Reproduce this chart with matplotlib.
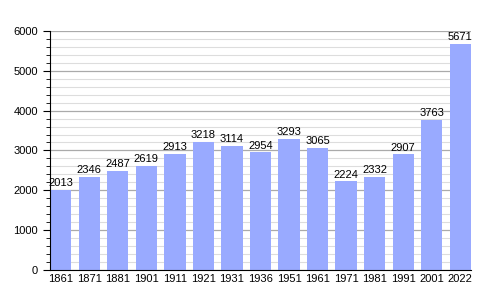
import matplotlib.pyplot as plt
from matplotlib.ticker import MultipleLocator

years = ['1861', '1871', '1881', '1901', '1911', '1921', '1931', '1936',
         '1951', '1961', '1971', '1981', '1991', '2001', '2022']
population = [2013, 2346, 2487, 2619, 2913, 3218, 3114, 2954,
              3293, 3065, 2224, 2332, 2907, 3763, 5671]

plt.rcParams['font.family'] = ['Liberation Sans', 'DejaVu Sans']

fig = plt.figure(figsize=(5, 3), dpi=100)
ax = fig.add_axes([0.1, 0.1, 0.842, 0.797])

x = range(len(years))
w = 0.75
ax.bar(x, population, width=w, color='#99aaff', zorder=2)
for i, v in enumerate(population):
    ax.text(i, v + 40, str(v), ha='center', va='bottom', fontsize=8, zorder=3)

ax.set_xlim(-w / 2, len(years) - 1 + w / 2)
ax.set_ylim(0, 6000)
ax.set_xticks(list(x))
ax.set_xticklabels(years)
ax.yaxis.set_major_locator(MultipleLocator(1000))
ax.yaxis.set_minor_locator(MultipleLocator(200))
ax.grid(axis='y', which='major', color='#aaaaaa', linewidth=0.9, zorder=0)
ax.grid(axis='y', which='minor', color='#dddddd', linewidth=0.8, zorder=0)
ax.tick_params(axis='both', labelsize=8)
ax.tick_params(axis='x', length=0, pad=3)
ax.tick_params(axis='y', which='major', length=5)
ax.tick_params(axis='y', which='minor', length=3)
for s in ['top', 'right']:
    ax.spines[s].set_visible(False)

fig.savefig('out.png', dpi=100)
